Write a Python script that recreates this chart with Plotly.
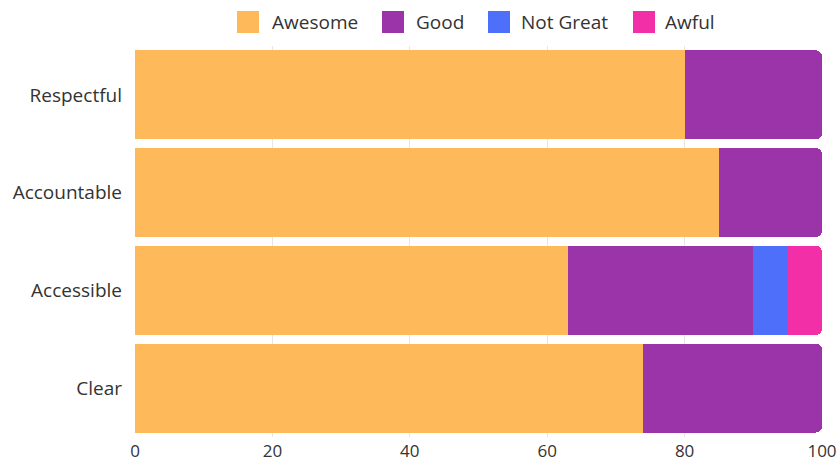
import plotly.graph_objects as go

categories = ["Respectful", "Accountable", "Accessible", "Clear"]
awesome = [80, 85, 63, 74]
good = [20, 15, 27, 26]
not_great = [0, 0, 5, 0]
awful = [0, 0, 5, 0]

series = [
    ("Awesome", awesome, "#FDB95A"),
    ("Good", good, "#9A34A8"),
    ("Not Great", not_great, "#4D6FFA"),
    ("Awful", awful, "#F22FA6"),
]

W, H = 840, 461
ML, MR, MT, MB = 135, 18, 46, 24
PW, PH = W - ML - MR, H - MT - MB


def px_x(px):
    return (px - ML) / PW


def px_y(py):
    return (H - MB - py) / PH


fig = go.Figure()
for name, vals, color in series:
    fig.add_trace(go.Bar(
        y=categories, x=vals, name=name, orientation="h",
        marker=dict(color=color, line=dict(width=0)),
        showlegend=False,
    ))

# custom legend (large square swatches, as in the reference)
legend_pos = [(237, 270), (382, 414), (488, 519), (633, 663)]
for (name, _, color), (sx, tx) in zip(series, legend_pos):
    fig.add_shape(type="rect", xref="paper", yref="paper",
                  x0=px_x(sx), x1=px_x(sx + 22), y0=px_y(33), y1=px_y(11),
                  fillcolor=color, line=dict(width=0))
    fig.add_annotation(xref="paper", yref="paper", x=px_x(tx), y=px_y(22),
                       text=name, showarrow=False, xanchor="left", yanchor="middle",
                       font=dict(size=19, color="#333333"))

fig.update_layout(
    width=W, height=H,
    barmode="stack", bargap=0.09, barcornerradius=6,
    plot_bgcolor="white", paper_bgcolor="white",
    margin=dict(l=ML, r=MR, t=MT, b=MB, autoexpand=False),
    font=dict(family="Open Sans, Noto Sans, sans-serif", size=16, color="#333333"),
    xaxis=dict(range=[0, 100], tickvals=[0, 20, 40, 60, 80, 100], showgrid=True,
               gridcolor="#E6E6E6", zeroline=False, showline=False, ticks="",
               automargin=False, ticklabelstandoff=2,
               tickfont=dict(size=17, color="#333333")),
    yaxis=dict(autorange="reversed", showgrid=False, ticks="", ticklabelstandoff=12,
               automargin=False,
               tickfont=dict(size=19, color="#333333")),
)

fig.write_html("out.html")
